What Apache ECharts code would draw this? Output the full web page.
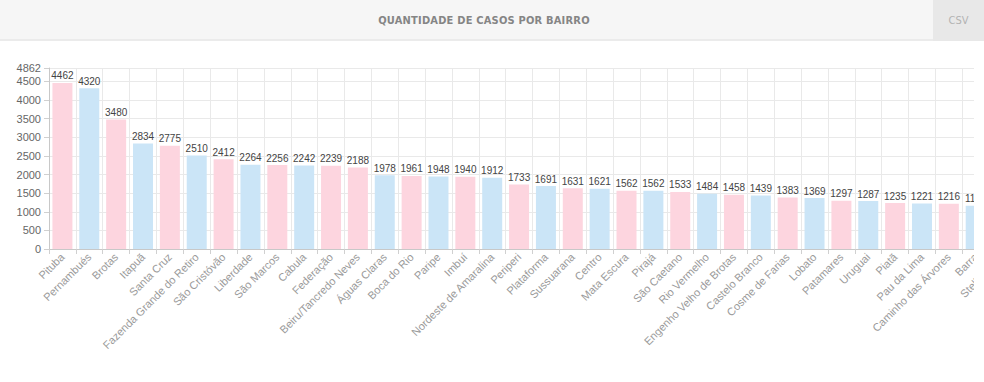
<!DOCTYPE html>
<html>
<head>
<meta charset="utf-8">
<script src="https://cdn.jsdelivr.net/npm/echarts@6/dist/echarts.min.js"></script>
<style>
  html, body { margin: 0; padding: 0; background: #ffffff; width: 984px; height: 382px; overflow: hidden; }
  #header { position: absolute; left: 0; top: 0; width: 984px; height: 39px; background: #f6f6f6; border-bottom: 2px solid #ebebeb; }
  #title { position: absolute; left: 0; top: 0; width: 968px; height: 39px; line-height: 42px; text-align: center;
           font-family: "DejaVu Sans Condensed", "DejaVu Sans", sans-serif; font-weight: bold; font-size: 11px; color: #858585; letter-spacing: 0.2px; }
  #csv { position: absolute; right: 0; top: 0; width: 51px; height: 41px; background: #e8e8e8; line-height: 42px; text-align: center;
         font-family: "DejaVu Sans Condensed", "DejaVu Sans", sans-serif; font-size: 11px; color: #b3b3b3; }
  #wrap { position: absolute; left: 0; top: 0; width: 974px; height: 382px; overflow: hidden; }
  #chart { position: absolute; left: 0; top: 0; width: 1040px; height: 382px; }
</style>
</head>
<body>
<div id="header"><div id="title">QUANTIDADE DE CASOS POR BAIRRO</div><div id="csv">CSV</div></div>
<div id="wrap"><div id="chart"></div></div>
<script>
// Bairros (categorias), na ordem do gráfico
const bairros = [
  "Pituba", "Pernambués", "Brotas", "Itapuã", "Santa Cruz", "Fazenda Grande do Retiro",
  "São Cristóvão", "Liberdade", "São Marcos", "Cabula", "Federação", "Beiru/Tancredo Neves",
  "Águas Claras", "Boca do Rio", "Paripe", "Imbuí", "Nordeste de Amaralina", "Periperi",
  "Plataforma", "Sussuarana", "Centro", "Mata Escura", "Pirajá", "São Caetano",
  "Rio Vermelho", "Engenho Velho de Brotas", "Castelo Branco", "Cosme de Farias", "Lobato",
  "Patamares", "Uruguai", "Piatã", "Pau da Lima", "Caminho das Árvores", "Barra", "Stella Maris"
];
// Quantidade de casos
const casos = [
  4462, 4320, 3480, 2834, 2775, 2510,
  2412, 2264, 2256, 2242, 2239, 2188,
  1978, 1961, 1948, 1940, 1912, 1733,
  1691, 1631, 1621, 1562, 1562, 1533,
  1484, 1458, 1439, 1383, 1369,
  1297, 1287, 1235, 1221, 1216, 1160, 1150
];
// Grupo de cor de cada barra (R = rosa, A = azul)
const grupo = [
  "R", "A", "R", "A", "R", "A",
  "R", "A", "R", "A", "R", "R",
  "A", "R", "A", "R", "A", "R",
  "A", "R", "A", "R", "A", "R",
  "A", "R", "A", "R", "A",
  "R", "A", "R", "A", "R", "A", "R"
];
// Eixo de valores
const yMin = 0;
const yMax = 4862;
const yStep = 500;

const cores = { R: "#fdd5df", A: "#cbe5f7" };

const chart = echarts.init(document.getElementById("chart"), null, { renderer: "svg" });
chart.setOption({
  animation: false,
  textStyle: { fontFamily: "Liberation Sans, Arial, sans-serif" },
  grid: { left: 49, top: 68, width: 967, height: 181, containLabel: false },
  xAxis: {
    type: "category",
    data: bairros,
    boundaryGap: true,
    axisLine: { show: true, lineStyle: { color: "#c8c8c8", width: 1 } },
    axisTick: { show: true, length: 5, alignWithLabel: false, lineStyle: { color: "#d0d0d0" } },
    splitLine: { show: true, lineStyle: { color: "#e9e9e9", width: 1 } },
    axisLabel: {
      interval: 0, rotate: 45, fontSize: 11, color: "#9a9a9a", margin: 6,
      fontFamily: "Liberation Sans, Arial, sans-serif"
    }
  },
  yAxis: {
    type: "value",
    min: yMin, max: yMax, interval: yStep,
    axisLine: { show: true, lineStyle: { color: "#c8c8c8", width: 1 } },
    axisTick: { show: true, length: 5, lineStyle: { color: "#d0d0d0" } },
    splitLine: { show: true, lineStyle: { color: "#e9e9e9", width: 1 } },
    axisLabel: {
      fontSize: 11, color: "#666666", margin: 8, fontFamily: "Liberation Sans, Arial, sans-serif",
      formatter: (v) => String(Math.round(v))
    }
  },
  series: [{
    type: "bar",
    data: casos.map((v, i) => ({ value: v, itemStyle: { color: cores[grupo[i]] } })),
    barWidth: 20,
    label: {
      show: true, position: "top", distance: 2, fontSize: 10, color: "#444444",
      fontFamily: "Liberation Sans, Arial, sans-serif"
    }
  }]
});
</script>
</body>
</html>
